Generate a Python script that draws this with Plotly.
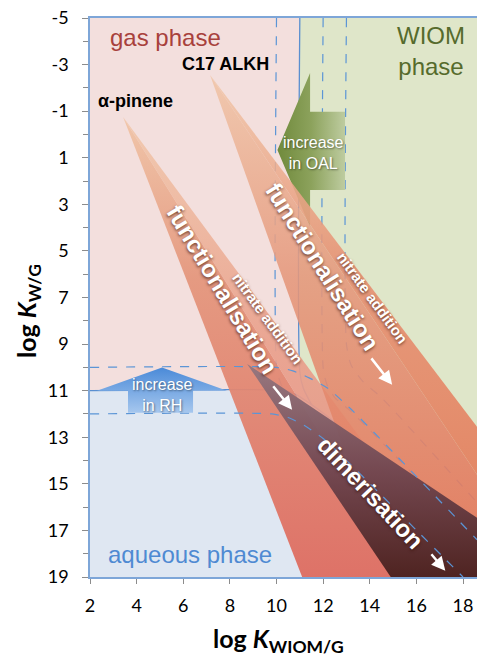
import plotly.graph_objects as go

# ---------------- data ----------------
x_tick_vals = [2, 4, 6, 8, 10, 12, 14, 16, 18]
x_tick_text = ["2", "4", "6", "8", "10", "12", "14", "16", "18"]
y_tick_vals = [-5, -3, -1, 1, 3, 5, 7, 9, 11, 13, 15, 17, 19]
y_tick_text = ["-5", "-3", "-1", "1", "3", "5", "7", "9", "11", "13", "15", "17", "19"]
y_minor_vals = [-4, -2, 0, 2, 4, 6, 8, 10, 12, 14, 16, 18]

# phase regions (log K_WIOM/G, log K_W/G)
gas_x = [2, 11, 11, 11.15, 11.5, 10.8, 10.3, 2]
gas_y = [-5, -5, 10.2, 10.9, 11.6, 11.15, 11, 11]
wiom_x = [11, 18.6, 18.6, 12.3, 11.5, 11.15, 11]
wiom_y = [-5, -5, 18.2, 12.2, 11.6, 10.9, 10.2]
aq_x = [2, 10.3, 10.8, 11.5, 12.3, 18.6, 18.6, 2]
aq_y = [11, 11, 11.15, 11.6, 12.2, 18.2, 19, 19]

# phase boundaries
solid_h_x = [2, 10.3, 10.8, 11.5, 12.3, 18.6]
solid_h_y = [11, 11, 11.15, 11.6, 12.2, 18.2]
solid_v_x = [11, 11, 11.15, 11.5]
solid_v_y = [-5, 10.2, 10.9, 11.6]
rh_up_x = [2, 10.0, 10.7, 11.4, 12.2, 13.2, 18.6]
rh_up_y = [10, 10, 10.15, 10.45, 10.9, 11.8, 17.4]
rh_down_x = [2, 9.8, 10.5, 11.2, 12.0, 12.6, 18.0]
rh_down_y = [12, 12, 12.15, 12.5, 13.05, 13.6, 19.0]
oal_up_x = [10, 10, 10.15, 10.5, 11.2, 12.0]
oal_up_y = [-5, 10.0, 10.6, 11.4, 12.35, 13.05]
oal_dn1_x = [12, 12, 12.15, 12.5, 13.2, 18.6]
oal_dn1_y = [-5, 10.0, 10.7, 11.3, 11.9, 17.4]
oal_dn2_x = [13, 13, 13.2, 13.7, 14.5, 18.6]
oal_dn2_y = [-5, 9.0, 9.9, 10.6, 11.3, 15.8]

# oxidation bands
apin_func_x = [3.42, 15.7, 11.1]
apin_func_y = [-0.75, 19, 19]
apin_nitr_x = [3.42, 18.0, 15.7]
apin_nitr_y = [-0.75, 19, 19]
c17_func_x = [7.15, 18.6, 18.6, 14.85]
c17_func_y = [-2.55, 14.6, 19, 19]
c17_nitr_x = [7.15, 18.6, 18.6]
c17_nitr_y = [-2.55, 12.55, 14.6]
dimer_x = [8.74, 18.6, 18.6, 14.9]
dimer_y = [9.85, 16.46, 19, 19]

# arrows
oal_arrow_x = [10.04, 11.44, 11.44, 12.94, 12.94, 11.44, 11.44]
oal_arrow_y = [0.67, -2.64, -0.97, -0.97, 2.38, 2.38, 3.97]
rh_arrow_x = [5.09, 7.88, 6.42, 6.42, 3.63, 3.63, 2.3]
rh_arrow_y = [10.0, 11.0, 11.0, 11.95, 11.95, 11.0, 11.0]

# ---------------- figure ----------------
fig = go.Figure()


def poly(x, y, color=None, grad=None, gtype="vertical", start=None, stop=None, opacity=1.0):
    kw = dict(x=x + [x[0]], y=y + [y[0]], mode="lines", fill="toself",
              line=dict(width=0), hoverinfo="skip", showlegend=False, opacity=opacity)
    if grad is not None:
        kw["fillgradient"] = dict(type=gtype, colorscale=grad, start=start, stop=stop)
        kw["fillcolor"] = grad[0][1]
    else:
        kw["fillcolor"] = color
    fig.add_trace(go.Scatter(**kw))


def line(x, y, color, width=1.2, dash="solid"):
    fig.add_trace(go.Scatter(x=x, y=y, mode="lines", hoverinfo="skip", showlegend=False,
                             line=dict(color=color, width=width, dash=dash, shape="spline",
                                       smoothing=0.6)))


# backgrounds
poly(gas_x, gas_y, color="#f3dfdd")
poly(wiom_x, wiom_y, color="#dfe6c9")
poly(aq_x, aq_y, color="#dfe7f2")

# lines underneath the bands
BLUE = "#5b95d6"
line(solid_v_x, solid_v_y, "#5a8fd0", 1.3)
line(solid_h_x, solid_h_y, "#5a8fd0", 1.3)
line(oal_up_x, oal_up_y, BLUE, 1.2, "dash")
line(oal_dn1_x, oal_dn1_y, BLUE, 1.2, "dash")
line(oal_dn2_x, oal_dn2_y, BLUE, 1.2, "dash")

# OAL arrow (beneath the bands)
poly(oal_arrow_x, oal_arrow_y,
     grad=[[0, "rgb(112,138,60)"], [0.5, "rgb(140,162,92)"], [1, "rgb(190,204,160)"]],
     gtype="horizontal", start=10.04, stop=12.94)

# alpha-pinene band
poly(apin_nitr_x, apin_nitr_y,
     grad=[[0, "rgba(241,200,172,0.92)"], [0.5, "rgba(233,160,140,0.92)"], [1, "rgba(228,140,128,0.92)"]],
     start=-0.75, stop=19)
poly(apin_func_x, apin_func_y,
     grad=[[0, "rgba(240,196,166,0.93)"], [0.35, "rgba(228,150,124,0.94)"], [1, "rgba(222,108,96,0.95)"]],
     start=-0.75, stop=19)
# C17 band
poly(c17_nitr_x, c17_nitr_y,
     grad=[[0, "rgba(241,200,170,0.85)"], [0.45, "rgba(231,148,118,0.9)"], [1, "rgba(228,126,92,0.9)"]],
     start=-2.55, stop=14.6)
poly(c17_func_x, c17_func_y,
     grad=[[0, "rgba(240,196,166,0.85)"], [0.4, "rgba(229,152,124,0.88)"], [1, "rgba(226,114,86,0.92)"]],
     start=-2.55, stop=19)
# dimerisation
poly(dimer_x, dimer_y,
     grad=[[0, "rgba(146,118,128,0.93)"], [0.5, "rgba(112,70,80,0.96)"], [1, "rgba(76,34,32,0.98)"]],
     start=9.85, stop=19)

# dashed RH lines on top
line(rh_up_x, rh_up_y, BLUE, 1.2, "dash")
line(rh_down_x, rh_down_y, BLUE, 1.2, "dash")

# RH arrow
poly(rh_arrow_x, rh_arrow_y,
     grad=[[0, "#4a8ad8"], [1, "#a6c7ee"]], gtype="vertical", start=10.0, stop=11.95)

# ---------------- annotations ----------------
ARIAL = "Liberation Sans, Arial, sans-serif"
SHADOW = "1px 1px 3px rgba(60,20,10,0.75)"
ann = []


def txt(x, y, text, size, color, angle=0, xanchor="center", bold=False, shadow=None, family=ARIAL):
    f = dict(family=family, size=size, color=color)
    if shadow:
        f["shadow"] = shadow
    ann.append(dict(x=x, y=y, xref="x", yref="y", text=("<b>%s</b>" % text) if bold else text,
                    showarrow=False, textangle=angle, xanchor=xanchor, yanchor="middle", font=f))


def arr(x0, y0, x1, y1):
    ann.append(dict(x=x1, y=y1, ax=x0, ay=y0, xref="x", yref="y", axref="x", ayref="y",
                    text="", showarrow=True, arrowhead=2, arrowsize=1.1, arrowwidth=2.5,
                    arrowcolor="white"))


txt(2.77, -4.18, "gas phase", 24, "#a8413c", xanchor="left")
txt(16.64, -3.58, "WIOM<br>phase", 24, "#566b2c")
txt(2.69, 18.05, "aqueous phase", 24, "#4f8ad2", xanchor="left")
txt(2.26, -1.44, "α-pinene", 18, "black", xanchor="left", bold=True)
txt(5.86, -3.03, "C17 ALKH", 18, "black", xanchor="left", bold=True)

txt(7.67, 6.67, "functionalisation", 24, "white", angle=59, bold=True, shadow=SHADOW)
txt(9.64, 7.88, "nitrate addition", 15, "white", angle=54, bold=True, shadow=SHADOW)
txt(11.96, 5.69, "functionalisation", 24, "white", angle=58, bold=True, shadow=SHADOW)
txt(14.1, 7.02, "nitrate addition", 15, "white", angle=54, bold=True, shadow=SHADOW)
txt(14.02, 15.39, "dimerisation", 24, "white", angle=47, bold=True, shadow=SHADOW)
arr(9.81, 10.75, 10.67, 11.82)
arr(14.02, 9.55, 14.96, 10.75)
arr(16.59, 17.96, 17.24, 18.73)

txt(11.57, 0.79, "increase<br>in OAL", 16, "white", shadow="1px 1px 2px rgba(0,0,0,0.45)")
txt(5.09, 11.17, "increase<br>in RH", 16, "white", shadow="1px 1px 2px rgba(0,0,0,0.45)")

TITLE_FONT = dict(family="Lato, Open Sans, sans-serif", size=25, color="black")
ann.append(dict(x=0.486, y=-0.112, xref="paper", yref="paper", showarrow=False,
                text="<b>log <i>K</i><sub>WIOM/G</sub></b>", font=TITLE_FONT,
                xanchor="center", yanchor="middle"))
ann.append(dict(x=-0.16, y=0.476, xref="paper", yref="paper", showarrow=False,
                text="<b>log <i>K</i><sub>W/G</sub></b>", font=TITLE_FONT, textangle=-90,
                xanchor="center", yanchor="middle"))

TICK_FONT = dict(family="Lato, Open Sans, sans-serif", size=18, color="black")
fig.update_layout(
    width=477, height=657, autosize=False,
    margin=dict(l=90, r=0, t=18, b=80, autoexpand=False),
    paper_bgcolor="white", plot_bgcolor="white",
    showlegend=False,
    annotations=ann,
    xaxis=dict(range=[2, 18.6], tickmode="array", tickvals=x_tick_vals, ticktext=x_tick_text,
               showgrid=False, zeroline=False, showline=True, linecolor="#7ea6d8", linewidth=1.5,
               mirror=True, ticks="outside", ticklen=5, tickcolor="#8c8c8c", tickwidth=1.2,
               tickfont=TICK_FONT, ticklabelstandoff=7, layer="above traces", automargin=False),
    yaxis=dict(range=[19, -5], tickmode="array", tickvals=y_tick_vals, ticktext=y_tick_text,
               showgrid=False, zeroline=False, showline=True, linecolor="#7ea6d8", linewidth=1.5,
               ticks="outside", ticklen=6, tickcolor="#8c8c8c", tickwidth=1.2,
               tickfont=TICK_FONT, ticklabelstandoff=10, layer="above traces", automargin=False,
               minor=dict(tickvals=y_minor_vals, ticks="outside", ticklen=5,
                          tickcolor="#8c8c8c", tickwidth=1.2, showgrid=False)),
)

fig.write_html("out.html", config={"displayModeBar": False},
               post_script="document.body.style.margin='0';document.body.style.overflow='hidden';")
